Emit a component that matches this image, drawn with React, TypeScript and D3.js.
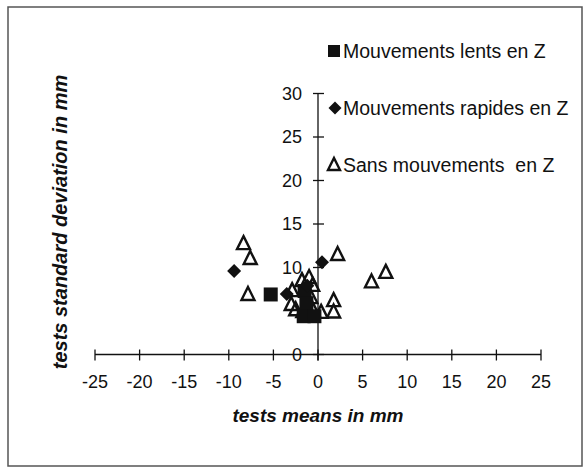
import React from "react";
import * as d3 from "d3";

const lentsX = [-5.3, -1.5, -1.3, -1.6, -0.4];
const lentsY = [6.9, 7.3, 5.9, 4.4, 4.4];

const rapidesX = [-9.4, 0.45, -3.5, -1.2];
const rapidesY = [9.6, 10.6, 6.95, 7.9];

const sansX = [-8.35, -7.6, -7.85, 2.2, 6.0, 7.6, 1.75, 1.75, -2.9, -3.0, -1.8, -1.0, -0.8, -1.7, -0.55, 0.35, -2.5, -0.6];
const sansY = [12.8, 11.1, 6.95, 11.55, 8.4, 9.5, 6.25, 4.95, 7.4, 5.8, 8.55, 8.9, 6.6, 5.0, 5.1, 4.9, 5.2, 8.0];

const xTicks = [-25, -20, -15, -10, -5, 0, 5, 10, 15, 20, 25];
const yTicks = [0, 10, 15, 20, 25, 30];

const legendLabels = ["Mouvements lents en Z", "Mouvements rapides en Z", "Sans mouvements  en Z"];

const FONT = "'Liberation Sans', Arial, sans-serif";

export default function App() {
  const W = 584, H = 469;
  const x = d3.scaleLinear().domain([-25, 25]).range([95, 541]);
  const y = d3.scaleLinear().domain([0, 30]).range([354.5, 93.5]);
  const x0 = x(0);
  const y0 = y(0);

  const sq = (cx: number, cy: number, s: number, key: string) => (
    <rect key={key} x={cx - s / 2} y={cy - s / 2} width={s} height={s} fill="#111" />
  );
  const dia = (cx: number, cy: number, s: number, key: string) => (
    <path key={key} d={`M${cx},${cy - s / 2}L${cx + s / 2},${cy}L${cx},${cy + s / 2}L${cx - s / 2},${cy}Z`} fill="#111" />
  );
  const tri = (cx: number, cy: number, s: number, key: string) => (
    <path key={key} d={`M${cx},${cy - s / 2 - 0.5}L${cx + s / 2},${cy + s / 2 - 0.5}L${cx - s / 2},${cy + s / 2 - 0.5}Z`} fill="none" stroke="#111" strokeWidth={2.4} strokeLinejoin="miter" />
  );

  return (
    <svg width={W} height={H} style={{ position: "absolute", left: 0, top: 0, background: "#fff" }}>
      <rect x={8} y={7} width={574} height={459} fill="none" stroke="#555" strokeWidth={1.5} />

      {/* x axis */}
      <line x1={x(-25)} x2={x(25)} y1={y0} y2={y0} stroke="#111" strokeWidth={1.3} />
      {xTicks.map((t) => (
        <g key={"xt" + t}>
          <line x1={x(t)} x2={x(t)} y1={y0 - 5} y2={y0 + 6} stroke="#111" strokeWidth={1.3} />
          <text x={x(t)} y={y0 + 33} textAnchor="middle" fontFamily={FONT} fontSize={18} fill="#111">{t}</text>
        </g>
      ))}

      {/* y axis */}
      <line x1={x0} x2={x0} y1={y(30)} y2={y0 + 6} stroke="#111" strokeWidth={1.3} />
      {yTicks.map((t) => (
        <g key={"yt" + t}>
          <line x1={x0 - 5} x2={x0 + 6} y1={y(t)} y2={y(t)} stroke="#111" strokeWidth={1.3} />
          <text x={302} y={y(t)} dy="0.35em" textAnchor="end" fontFamily={FONT} fontSize={18} fill="#111">{t}</text>
        </g>
      ))}

      {/* titles */}
      <text x={318} y={422} textAnchor="middle" fontFamily={FONT} fontSize={19} fontWeight="bold" fontStyle="italic" fill="#111">tests means in mm</text>
      <text transform={`translate(67,222) rotate(-90)`} textAnchor="middle" fontFamily={FONT} fontSize={20} fontWeight="bold" fontStyle="italic" fill="#111">tests standard deviation in mm</text>

      {/* data */}
      {sansX.map((v, i) => tri(x(v), y(sansY[i]), 13, "s" + i))}
      {lentsX.map((v, i) => sq(x(v), y(lentsY[i]), 14, "l" + i))}
      {rapidesX.map((v, i) => dia(x(v), y(rapidesY[i]), 14, "r" + i))}

      {/* legend */}
      {sq(334, 51, 12, "leg0")}
      <text x={343} y={58} fontFamily={FONT} fontSize={19.5} fill="#111">{legendLabels[0]}</text>
      {dia(335, 108, 13, "leg1")}
      <text x={343} y={115} fontFamily={FONT} fontSize={19.5} fill="#111">{legendLabels[1]}</text>
      {tri(334, 164.5, 12, "leg2")}
      <text x={343} y={172} fontFamily={FONT} fontSize={19.5} fill="#111" style={{ whiteSpace: "pre" }}>{legendLabels[2]}</text>
    </svg>
  );
}
